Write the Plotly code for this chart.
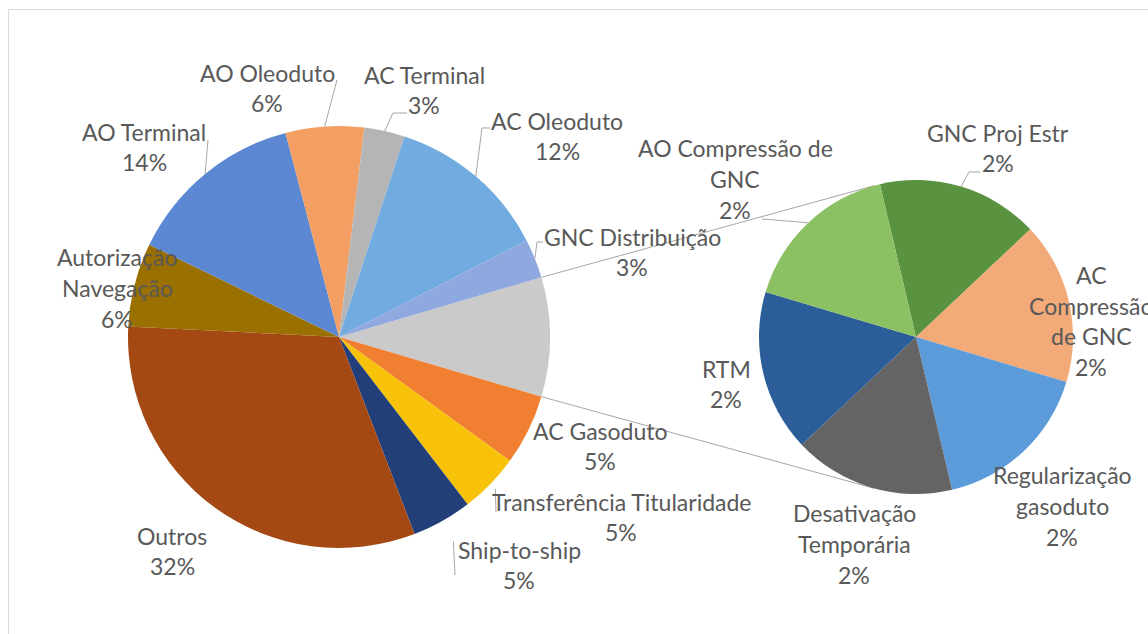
import math
import plotly.graph_objects as go

W, H = 1148, 634

# ---------------- data (share of total, %) ----------------
main_categories = ["AC Gasoduto", "Transferência Titularidade", "Ship-to-ship", "Outros",
                   "Autorização Navegação", "AO Terminal", "AO Oleoduto", "AC Terminal",
                   "AC Oleoduto", "GNC Distribuição"]
main_values = [5.4, 4.6, 4.6, 31.6, 6.4, 13.7, 6.0, 3.1, 12.4, 3.0]

detail_categories = ["GNC Proj Estr", "AC Compressão de GNC", "Regularização gasoduto",
                     "Desativação Temporária", "RTM", "AO Compressão de GNC"]
detail_values = [1.52, 1.52, 1.52, 1.52, 1.52, 1.52]

split_label = "Demais (detalhe)"

# ---------------- style / layout ----------------
main_colors = {
    split_label: "#CACACA",
    "AC Gasoduto": "#F07F32",
    "Transferência Titularidade": "#F9C20A",
    "Ship-to-ship": "#223F79",
    "Outros": "#A44913",
    "Autorização Navegação": "#9A7000",
    "AO Terminal": "#5B87D3",
    "AO Oleoduto": "#F39E62",
    "AC Terminal": "#B5B5B5",
    "AC Oleoduto": "#72ABDF",
    "GNC Distribuição": "#8FA8E0",
}
detail_colors = {
    "GNC Proj Estr": "#5A9340",
    "AC Compressão de GNC": "#F2AA78",
    "Regularização gasoduto": "#5B9BDA",
    "Desativação Temporária": "#646464",
    "RTM": "#2B5E98",
    "AO Compressão de GNC": "#8BC063",
}

MAIN_C, MAIN_R = (339, 337), 211
DET_C, DET_R = (916, 337), 157
DET_ROTATION = -13.3

FONT = "Lato"
FONT_SIZE = 23
TEXT_COLOR = "#595959"
LINE_H = 30.7
LEADER_COLOR = "#A6A6A6"

label_lines = {
    "Autorização Navegação": ["Autorização", "Navegação"],
    "AO Compressão de GNC": ["AO Compressão de", "GNC"],
    "AC Compressão de GNC": ["AC", "Compressão", "de GNC"],
    "Regularização gasoduto": ["Regularização", "gasoduto"],
    "Desativação Temporária": ["Desativação", "Temporária"],
}
label_pos = {
    "AO Oleoduto": (267, 88),
    "AC Terminal": (424, 90),
    "AC Oleoduto": (557, 136),
    "AO Terminal": (144, 147),
    "Autorização Navegação": (117, 288),
    "GNC Distribuição": (632, 252),
    "AC Gasoduto": (600, 446),
    "Transferência Titularidade": (621, 517),
    "Ship-to-ship": (519, 565),
    "Outros": (172, 551),
    "AO Compressão de GNC": (735, 179),
    "GNC Proj Estr": (998, 148),
    "AC Compressão de GNC": (1091, 321),
    "RTM": (726, 384),
    "Regularização gasoduto": (1062, 506),
    "Desativação Temporária": (854, 544),
}
# radial gap, then polyline points to the label
leaders = {
    "AO Oleoduto": (0, [(337, 80)]),
    "AC Terminal": (0, [(393, 113), (407, 113)]),
    "AC Oleoduto": (0, [(482, 128), (490, 128)]),
    "AO Terminal": (0, [(208, 140)]),
    "GNC Distribuição": (0, [(537, 242), (543, 242)]),
    "Transferência Titularidade": (7, [(496, 512)]),
    "Ship-to-ship": (23, [(455, 575)]),
    "AO Compressão de GNC": (0, [(762, 219)]),
    "GNC Proj Estr": (0, [(969, 172), (980, 172)]),
}


def fx(x):
    return x / W


def fy(y):
    return 1 - y / H


def domain(c, r):
    return dict(x=[fx(c[0] - r), fx(c[0] + r)], y=[fy(c[1] + r), fy(c[1] - r)])


def edge(c, r, deg):
    a = math.radians(deg)
    return (c[0] + r * math.sin(a), c[1] - r * math.cos(a))


total = sum(main_values) + sum(detail_values)
split_value = sum(detail_values)
split_deg = 360 * split_value / total
main_rotation = 90 - split_deg / 2

pie_labels = [split_label] + main_categories
pie_values = [split_value] + main_values

fig = go.Figure()
fig.add_trace(go.Pie(
    labels=pie_labels, values=pie_values, sort=False, direction="clockwise",
    rotation=main_rotation, domain=domain(MAIN_C, MAIN_R), textinfo="none",
    marker=dict(colors=[main_colors[l] for l in pie_labels], line=dict(width=0)),
    showlegend=False, hoverinfo="label+percent",
))
fig.add_trace(go.Pie(
    labels=detail_categories, values=detail_values, sort=False, direction="clockwise",
    rotation=DET_ROTATION, domain=domain(DET_C, DET_R), textinfo="none",
    marker=dict(colors=[detail_colors[l] for l in detail_categories], line=dict(width=0)),
    showlegend=False, hoverinfo="label+value",
))

# mid angles of slices (clockwise from 12 o'clock)
mid_angle = {}
ang = main_rotation
for l, v in zip(pie_labels, pie_values):
    d = 360 * v / total
    mid_angle[l] = (MAIN_C, MAIN_R, ang + d / 2)
    ang += d
ang = DET_ROTATION
det_total = sum(detail_values)
for l, v in zip(detail_categories, detail_values):
    d = 360 * v / det_total
    mid_angle[l] = (DET_C, DET_R, ang + d / 2)
    ang += d

shapes = []
# chart-area border
shapes.append(dict(type="rect", xref="paper", yref="paper", x0=fx(8.5), y0=-0.05, x1=1.05,
                   y1=fy(9.5), line=dict(color="#D9D9D9", width=1), layer="below"))


def add_path(pts):
    path = "M " + " L ".join(f"{fx(x):.5f},{fy(y):.5f}" for x, y in pts)
    shapes.append(dict(type="path", xref="paper", yref="paper", path=path,
                       line=dict(color=LEADER_COLOR, width=1), layer="below"))


# connector lines (tangents from split slice edges to the detail pie)
for deg, sign in ((main_rotation, -1), (main_rotation + split_deg, 1)):
    p = edge(MAIN_C, MAIN_R, deg)
    dx, dy = DET_C[0] - p[0], DET_C[1] - p[1]
    d = math.hypot(dx, dy)
    phi = math.atan2(dy, dx)
    alpha = math.asin(DET_R / d)
    L = math.sqrt(d * d - DET_R * DET_R)
    t = (p[0] + L * math.cos(phi + sign * alpha), p[1] + L * math.sin(phi + sign * alpha))
    add_path([p, t])

# leader lines
for name, (gap, pts) in leaders.items():
    c, r, a = mid_angle[name]
    add_path([edge(c, r + gap, a)] + pts)

# labels
all_values = dict(zip(main_categories + detail_categories, main_values + detail_values))
annotations = []
for name in main_categories + detail_categories:
    v = all_values[name]
    lines = label_lines.get(name, [name]) + [f"{round(v / total * 100)}%"]
    cx, cy = label_pos[name]
    n = len(lines)
    for i, line in enumerate(lines):
        y = cy + (i - (n - 1) / 2) * LINE_H
        annotations.append(dict(x=fx(cx), y=fy(y), xref="paper", yref="paper", text=line,
                                showarrow=False, xanchor="center", yanchor="middle",
                                font=dict(family=FONT, size=FONT_SIZE, color=TEXT_COLOR)))

fig.update_layout(width=W, height=H, margin=dict(l=0, r=0, t=0, b=0),
                  paper_bgcolor="white", plot_bgcolor="white",
                  shapes=shapes, annotations=annotations)

fig.write_html("out.html", include_plotlyjs=True, full_html=True,
               config={"displayModeBar": False},
               post_script="document.body.style.margin='0';document.body.style.overflow='hidden';")
